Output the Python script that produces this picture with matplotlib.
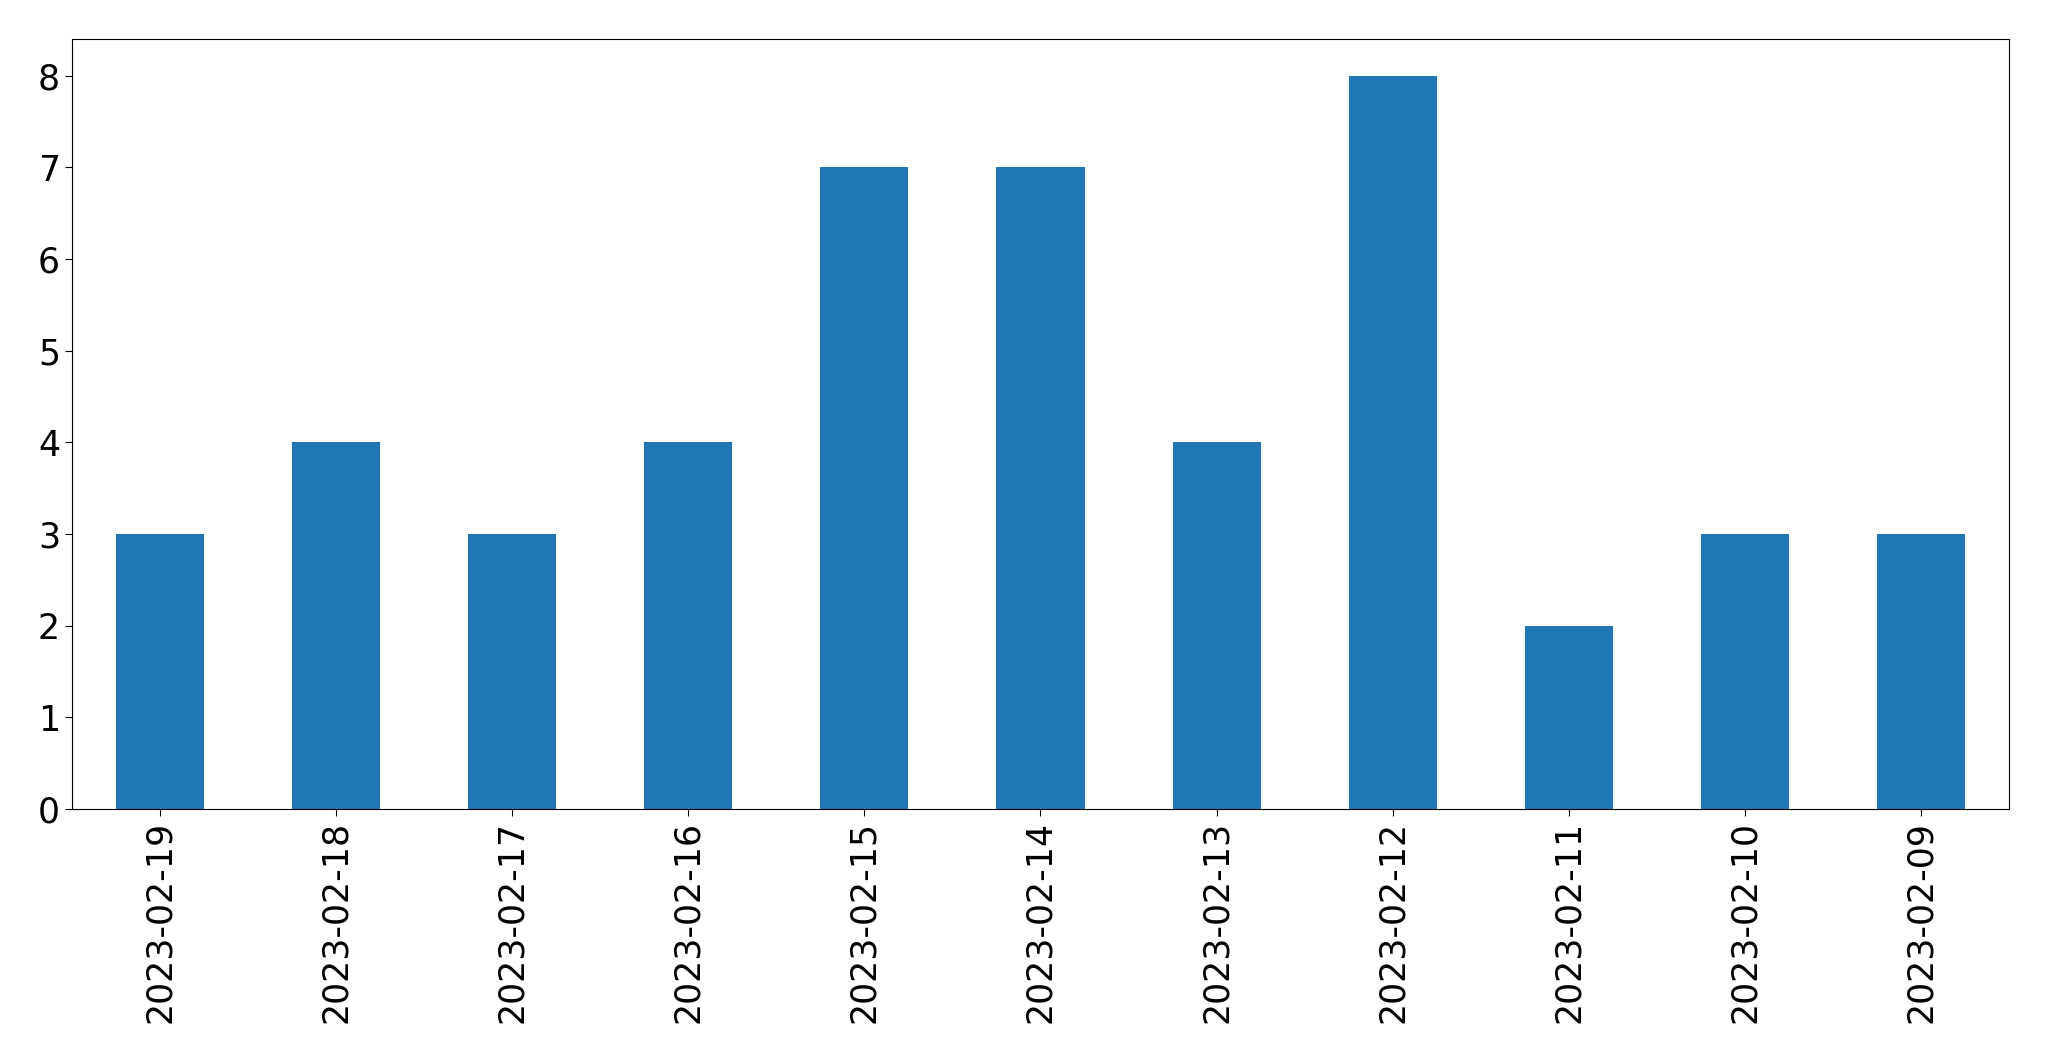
import matplotlib
matplotlib.use("Agg")
import matplotlib.pyplot as plt
import pandas as pd

dates = ['2023-02-19', '2023-02-18', '2023-02-17', '2023-02-16', '2023-02-15',
         '2023-02-14', '2023-02-13', '2023-02-12', '2023-02-11', '2023-02-10',
         '2023-02-09']
counts = [3, 4, 3, 4, 7, 7, 4, 8, 2, 3, 3]

s = pd.Series(counts, index=dates)

fig, ax = plt.subplots(figsize=(20.49, 10.61), dpi=100)
s.plot(kind='bar', ax=ax, color='#1f77b4')
ax.tick_params(axis='both', labelsize=25, length=5)
ax.set_xlim(-0.5, 10.5)
fig.subplots_adjust(left=0.0351, right=0.9805, top=0.9632, bottom=0.2375)
fig.savefig('out.png', dpi=100)
